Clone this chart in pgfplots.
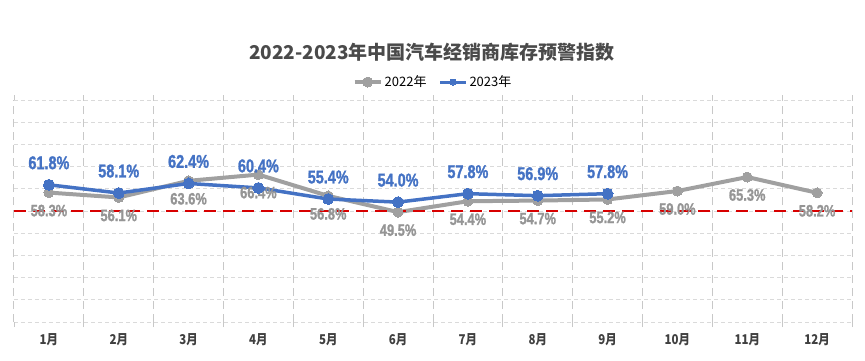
\documentclass[border=0pt]{standalone}
\usepackage{pgfplots}
\pgfplotsset{compat=1.18}
\usepackage{fontspec}
\setmainfont{Liberation Sans}
\newfontfamily\cjk{Noto Sans CJK SC}
\newfontfamily\narrow{Liberation Sans}[FakeStretch=0.78, FakeBold=1.3]
\newfontfamily\cjkn{Noto Sans CJK SC}[FakeStretch=0.85]
\definecolor{g22}{HTML}{A0A0A0}
\definecolor{g22t}{HTML}{959595}
\definecolor{b23}{HTML}{4472C4}
\definecolor{tit}{HTML}{4A4A4A}
\definecolor{tick}{HTML}{404040}
\definecolor{gridh}{HTML}{DADADA}
\definecolor{gridv}{HTML}{C8C8C8}
\definecolor{warn}{HTML}{D80000}
\begin{document}
\begin{tikzpicture}[x=1pt,y=1pt]
\node[font=\cjk\bfseries\fontsize{19}{19}\selectfont, text=tit] at (432,308) {2022-2023年中国汽车经销商库存预警指数};
\begin{axis}[
  at={(14pt,38pt)}, anchor=south west,
  width=838pt, height=222pt, scale only axis,
  xmin=0.5, xmax=12.5, ymin=0, ymax=100,
  xtick={1,...,12},
  xticklabels={1月,2月,3月,4月,5月,6月,7月,8月,9月,10月,11月,12月},
  minor xtick={0.5,1.5,...,12.5},
  ytick={0,10,...,100}, yticklabels={},
  major tick length=0pt, minor tick length=5pt, tick align=outside,
  ytick style={draw=none},
  minor x tick style={draw=gridv, line width=0.8pt},
  ymajorgrids, xminorgrids,
  major grid style={draw=gridh, line width=1pt, dash pattern=on 4pt off 3pt},
  minor grid style={draw=gridv, line width=1pt, dash pattern=on 8pt off 5pt},
  axis line style={draw=none},
  xticklabel style={font=\cjkn\bfseries\fontsize{13.5}{13.5}\selectfont, text=tick, yshift=-8pt},
  clip=false,
  legend style={draw=none, fill=none, at={(0.5,1.081)}, anchor=center,
    font=\cjk\fontsize{13}{13}\selectfont, /tikz/every even column/.append style={column sep=10pt}},
  legend columns=2,
  legend image code/.code={\draw[mark repeat=2,mark phase=2,#1] plot coordinates {(0pt,0pt) (13pt,0pt) (26pt,0pt)};},
]
\addlegendimage{g22, line width=4pt, mark=*, mark size=5pt, mark options={draw=g22, fill=g22, line width=0pt}}
\addlegendentry{2022年}
\addlegendimage{b23, line width=3pt, mark=*, mark size=3pt, mark options={draw=b23, fill=b23, line width=0pt}}
\addlegendentry{2023年}

\addplot[g22, line width=4pt, mark=*, mark size=5pt, mark options={draw=g22, fill=g22, line width=0pt},
  forget plot, nodes near coords, point meta=explicit symbolic,
  every node near coord/.append style={anchor=center, yshift=-18pt, text=g22t,
    font=\narrow\bfseries\fontsize{16.5}{16.5}\selectfont}]
coordinates {
(1,58.3) [58.3\%]
(2,56.1) [56.1\%]
(3,63.6) [63.6\%]
(4,66.4) [66.4\%]
(5,56.8) [56.8\%]
(6,49.5) [49.5\%]
(7,54.4) [54.4\%]
(8,54.7) [54.7\%]
(9,55.2) [55.2\%]
(10,59.0) [59.0\%]
(11,65.3) [65.3\%]
(12,58.2) [58.2\%]
};

\addplot[b23, line width=3.5pt, mark=*, mark size=5.5pt, mark options={draw=b23, fill=b23, line width=0pt},
  forget plot, nodes near coords, point meta=explicit symbolic,
  every node near coord/.append style={anchor=center, yshift=22pt, text=b23,
    font=\narrow\bfseries\fontsize{18.5}{18.5}\selectfont}]
coordinates {
(1,61.8) [61.8\%]
(2,58.1) [58.1\%]
(3,62.4) [62.4\%]
(4,60.4) [60.4\%]
(5,55.4) [55.4\%]
(6,54.0) [54.0\%]
(7,57.8) [57.8\%]
(8,56.9) [56.9\%]
(9,57.8) [57.8\%]
};

\addplot[warn, line width=2pt, dash pattern=on 12pt off 7pt, forget plot] coordinates {(0.5,50) (12.5,50)};
\end{axis}
\pgfresetboundingbox
\path[use as bounding box] (0,0) rectangle (865,360);
\end{tikzpicture}
\end{document}
